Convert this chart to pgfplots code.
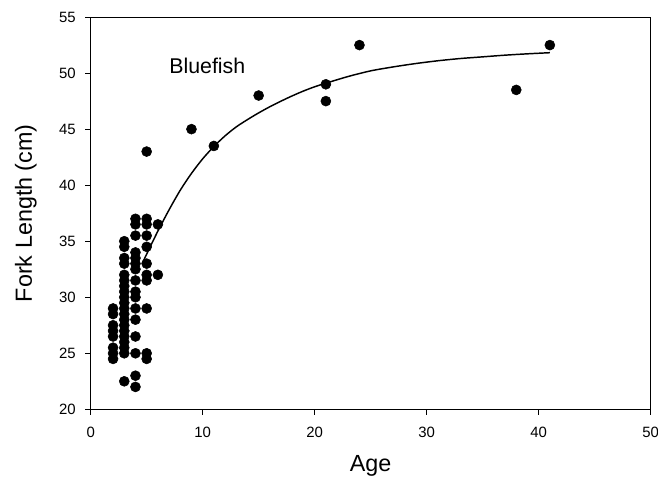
\documentclass[border=0pt]{standalone}
\usepackage{fontspec}
\setmainfont{Liberation Sans}
\usepackage{pgfplots}
\pgfplotsset{compat=1.18}
\begin{document}
\begin{tikzpicture}
\path[use as bounding box] (-68pt,-50.8pt) rectangle (425.5pt,307pt);
\begin{axis}[
  at={(0,0)}, anchor=south west,
  scale only axis, width=420pt, height=294.2pt,
  xmin=0, xmax=50, ymin=20, ymax=55,
  xtick={0,10,...,50}, ytick={20,25,...,55},
  xtick pos=left, ytick pos=left, tick align=outside,
  major tick length=4pt,
  axis line style={line width=0.75pt},
  every tick/.style={black, line width=0.75pt},
  /pgf/number format/assume math mode=true,
  ticklabel style={font=\fontsize{11.2}{13}\selectfont},
  xticklabel style={anchor=north, inner sep=0pt, yshift=-9pt},
  yticklabel style={anchor=east, inner sep=0pt, xshift=-7pt},
  xlabel={Age}, ylabel={Fork Length (cm)},
  label style={font=\fontsize{17.5}{20}\selectfont},
  xlabel style={at={(axis description cs:0.5,0)}, anchor=base, yshift=-46.8pt, inner sep=0pt},
  ylabel style={at={([xshift=-44pt]axis description cs:0,0.5)}, anchor=base, inner sep=0pt},
  clip=false,
]
\addplot[only marks, mark=*, mark size=3.75pt, black] coordinates {
 (2,29) (2,28.5) (2,27.5) (2,27) (2,26.5) (2,25.5) (2,25) (2,24.5)
 (3,35) (3,34.5) (3,33.5) (3,33) (3,32) (3,31.5) (3,31) (3,30.5) (3,30) (3,29.5)
 (3,29) (3,28.5) (3,28) (3,27.5) (3,27) (3,26.5) (3,26) (3,25.5) (3,25) (3,22.5)
 (4,37) (4,36.5) (4,35.5) (4,34) (4,33.5) (4,33) (4,32.5) (4,31.5) (4,30.5) (4,30)
 (4,29) (4,28) (4,26.5) (4,25) (4,23) (4,22)
 (5,43) (5,37) (5,36.5) (5,35.5) (5,34.5) (5,33) (5,32) (5,31.5) (5,29) (5,25) (5,24.5)
 (6,36.5) (6,32)
 (9,45) (11,43.5) (15,48) (21,49) (21,47.5) (24,52.5) (38,48.5) (41,52.5)
};
\addplot[black, line width=1.1pt, smooth] coordinates {
 (4.6,33.0) (5,33.85) (6,35.9) (7,37.8) (8,39.55) (9,41.05) (10,42.35) (11,43.45)
 (12,44.4) (13,45.2) (14,45.85) (15,46.45) (16,47.0) (17,47.5) (18,47.97) (19,48.4)
 (20,48.78) (21,49.1) (23,49.7) (25,50.2) (27,50.55) (29,50.85) (31,51.1) (33,51.3)
 (35,51.45) (37,51.6) (39,51.72) (41,51.82)
};
\node[anchor=base west, font=\fontsize{16}{19}\selectfont, inner sep=0pt] at (axis cs:7,50) {Bluefish};
\end{axis}
\end{tikzpicture}
\end{document}
